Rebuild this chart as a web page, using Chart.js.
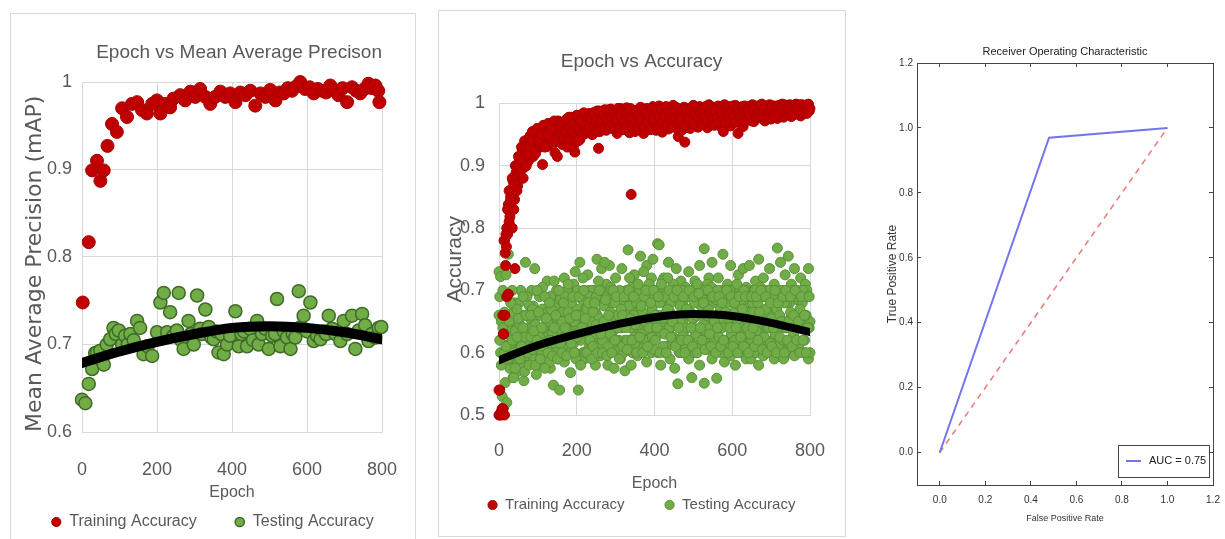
<!DOCTYPE html>
<html>
<head>
<meta charset="utf-8">
<script src="https://cdn.jsdelivr.net/npm/chart.js@4.4.0/dist/chart.umd.min.js"></script>
<style>
  html, body { margin: 0; padding: 0; background: #fff; }
  body { width: 1225px; height: 539px; position: relative; overflow: hidden; }
  .frame { position: absolute; border: 1px solid #d9d9d9; box-sizing: border-box; }
  canvas { position: absolute; }
</style>
</head>
<body>
<div class="frame" style="left:10px;top:13px;width:406px;height:540px"></div>
<div class="frame" style="left:438px;top:10px;width:408px;height:527px"></div>
<canvas id="mapChart" width="405" height="527" style="left:10px;top:12px"></canvas>
<canvas id="accChart" width="407" height="526" style="left:438px;top:10px"></canvas>
<canvas id="rocChart" width="370" height="519" style="left:855px;top:20px"></canvas>
<script>
// ---------- chart 1 : Epoch vs Mean Average Precison ----------
var mapTrainEpochs = [2,18,27,40,49,58,68,80,93,107,120,133,147,160,173,187,200,209,222,235,
  244,262,275,289,302,315,329,342,355,369,382,395,409,422,436,449,462,476,489,502,
  516,527,538,549,560,571,582,595,607,618,629,640,651,662,673,684,695,707,720,731,
  742,753,764,773,782,790,793];
var mapTrainValues = [0.748,0.817,0.899,0.910,0.887,0.899,0.927,0.952,0.943,0.970,0.960,0.975,0.977,0.968,0.964,0.975,0.979,0.964,0.975,0.971,
  0.981,0.985,0.979,0.989,0.983,0.992,0.983,0.975,0.983,0.989,0.983,0.987,0.977,0.988,0.985,0.990,0.973,0.987,0.983,0.991,
  0.979,0.988,0.987,0.993,0.990,0.995,1.000,0.992,0.994,0.987,0.992,0.990,0.988,0.996,0.991,0.985,0.993,0.977,0.994,0.990,
  0.987,0.992,0.998,0.993,0.996,0.990,0.977];
var mapTestEpochs = [0,9,18,27,35,40,49,58,66,75,84,90,98,107,115,122,129,138,147,155,
  164,175,187,200,209,218,227,235,244,253,258,264,271,284,290,298,307,315,320,329,
  338,345,351,358,364,372,378,387,395,409,418,425,432,440,448,456,467,471,480,489,
  498,507,515,520,529,538,547,556,562,569,578,584,591,600,609,618,627,636,645,651,
  658,667,676,689,698,707,720,729,738,747,755,764,773,782,791,798];
var mapTestValues = [0.637,0.633,0.655,0.672,0.690,0.691,0.693,0.677,0.700,0.706,0.719,0.712,0.716,0.700,0.710,0.700,0.712,0.705,0.727,0.719,
  0.689,0.698,0.687,0.714,0.748,0.759,0.714,0.737,0.710,0.716,0.759,0.705,0.695,0.727,0.712,0.700,0.756,0.718,0.712,0.740,
  0.720,0.708,0.706,0.715,0.691,0.712,0.689,0.700,0.710,0.738,0.698,0.712,0.715,0.698,0.718,0.705,0.727,0.700,0.712,0.718,
  0.695,0.710,0.712,0.752,0.698,0.715,0.708,0.695,0.712,0.708,0.761,0.720,0.733,0.715,0.748,0.704,0.710,0.706,0.715,0.712,
  0.733,0.718,0.712,0.704,0.727,0.712,0.733,0.695,0.716,0.735,0.722,0.704,0.712,0.708,0.719,0.720];
var mapTrendEpochs = [0,100,200,300,400,500,600,700,800];
var mapTrendValues = [0.679,0.692,0.703,0.712,0.719,0.721,0.719,0.714,0.706];
var mapYTicks = [0.6,0.7,0.8,0.9,1];

// ---------- chart 2 : Epoch vs Accuracy ----------
// readings taken every 4 epochs (0,4,...,800) and in between (2,6,...,798)
var accEpochs = [];
for (var e = 0; e <= 800; e += 4) accEpochs.push(e);
var accEpochsMid = [];
for (var m = 2; m < 800; m += 4) accEpochsMid.push(m);

var accTrainValues = [
  0.500,0.502,0.510,0.630,0.760,0.800,0.838,0.818,0.858,0.876,0.846,0.889,0.868,0.905,0.882,0.925,0.897,0.918,0.936,0.908,
  0.948,0.926,0.915,0.951,0.938,0.929,0.957,0.941,0.902,0.962,0.947,0.931,0.958,0.943,0.968,0.951,0.921,0.960,0.972,0.944,
  0.963,0.934,0.971,0.952,0.965,0.978,0.948,0.969,0.932,0.961,0.981,0.958,0.942,0.973,0.983,0.951,0.970,0.962,0.984,0.966,
  0.950,0.979,0.958,0.988,0.968,0.955,0.982,0.966,0.990,0.957,0.976,0.969,0.991,0.960,0.980,0.971,0.952,0.983,0.992,0.967,
  0.958,0.984,0.993,0.972,0.953,0.979,0.961,0.989,0.970,0.985,0.958,0.994,0.974,0.952,0.981,0.992,0.963,0.986,0.971,0.995,
  0.968,0.957,0.984,0.996,0.973,0.954,0.987,0.966,0.993,0.959,0.980,0.972,0.997,0.983,0.961,0.991,0.969,0.985,0.958,0.994,
  0.978,0.965,0.992,0.960,0.983,0.997,0.970,0.986,0.962,0.995,0.979,0.967,0.993,0.984,0.961,0.998,0.972,0.988,0.994,0.969,
  0.985,0.996,0.973,0.962,0.989,0.998,0.976,0.987,0.995,0.964,0.984,0.975,0.997,0.986,0.970,0.993,0.981,0.963,0.996,0.980,
  0.974,0.995,0.983,0.998,0.971,0.988,0.996,0.977,0.985,0.999,0.982,0.972,0.994,0.987,0.998,0.975,0.989,0.996,0.983,0.976,
  0.997,0.985,0.999,0.978,0.990,0.996,0.984,0.998,0.979,0.993,0.987,0.999,0.983,0.995,0.980,0.998,0.988,0.996,0.984,0.999,
  0.992];
var accTrainValuesMid = [
  0.540,0.505,0.660,0.780,0.790,0.830,0.860,0.845,0.880,0.870,0.900,0.880,0.915,0.895,0.930,0.910,0.940,0.920,0.935,0.945,
  0.935,0.955,0.940,0.925,0.960,0.945,0.930,0.955,0.965,0.940,0.950,0.968,0.935,0.960,0.948,0.972,0.938,0.955,0.965,0.950,
  0.970,0.945,0.958,0.975,0.940,0.962,0.978,0.955,0.968,0.945,0.980,0.960,0.972,0.950,0.985,0.965,0.958,0.978,0.962,0.975,
  0.985,0.962,0.972,0.955,0.988,0.970,0.960,0.982,0.958,0.975,0.990,0.965,0.978,0.986,0.962,0.975,0.992,0.960,0.978,0.988,
  0.970,0.962,0.985,0.978,0.992,0.965,0.975,0.955,0.988,0.980,0.968,0.975,0.990,0.962,0.985,0.970,0.980,0.958,0.992,0.975,
  0.985,0.990,0.962,0.978,0.992,0.970,0.980,0.995,0.965,0.985,0.975,0.962,0.988,0.978,0.993,0.968,0.982,0.975,0.990,0.965,
  0.990,0.980,0.972,0.988,0.995,0.968,0.982,0.993,0.975,0.985,0.966,0.990,0.978,0.996,0.972,0.985,0.990,0.976,0.965,0.988,
  0.978,0.970,0.992,0.985,0.975,0.968,0.993,0.982,0.972,0.990,0.996,0.980,0.970,0.992,0.985,0.976,0.995,0.988,0.972,0.990,
  0.988,0.980,0.972,0.990,0.995,0.978,0.985,0.992,0.997,0.980,0.990,0.996,0.978,0.985,0.992,0.996,0.980,0.988,0.994,0.990,
  0.985,0.994,0.990,0.998,0.986,0.992,0.996,0.988,0.995,0.982,0.997,0.992,0.988,0.998,0.990,0.985,0.996,0.992,0.998,0.988];
// extra training points: the early climb and the stray low ones
var accTrainExtra = [[0,0.54],[2,0.50],[6,0.50],[10,0.51],[14,0.50],[11,0.63],[15,0.66],[20,0.69],[24,0.694],[41,0.735],
  [17,0.74],[13,0.78],[19,0.77],[22,0.79],[26,0.81],[30,0.85],[34,0.80],[38,0.83],[42,0.87],[46,0.86],
  [50,0.90],[54,0.89],[58,0.91],[62,0.88],[66,0.93],[70,0.90],[74,0.92],[78,0.93],[86,0.94],[94,0.92],
  [102,0.94],[110,0.95],[118,0.93],[126,0.95],[134,0.96],[142,0.94],[150,0.915],[176,0.93],[195,0.922],[204,0.94],
  [256,0.928],[340,0.854],[461,0.947],[478,0.938],[577,0.955],[615,0.952]];

var accTestValuesA = [
  0.730,0.722,0.660,0.645,0.600,0.612,0.758,0.640,0.575,0.665,0.680,0.590,0.650,0.620,0.700,0.585,0.660,0.745,0.610,0.640,
  0.655,0.700,0.615,0.735,0.640,0.580,0.690,0.625,0.670,0.600,0.655,0.715,0.630,0.575,0.690,0.645,0.610,0.700,0.660,0.620,
  0.680,0.625,0.720,0.655,0.600,0.705,0.640,0.690,0.615,0.730,0.670,0.625,0.745,0.660,0.600,0.700,0.650,0.725,0.610,0.680,
  0.640,0.700,0.665,0.750,0.620,0.685,0.735,0.650,0.600,0.710,0.675,0.740,0.630,0.690,0.660,0.720,0.605,0.680,0.650,0.735,
  0.680,0.620,0.700,0.765,0.645,0.690,0.600,0.725,0.660,0.710,0.635,0.755,0.680,0.615,0.700,0.740,0.650,0.685,0.720,0.630,
  0.690,0.650,0.775,0.773,0.700,0.640,0.720,0.680,0.610,0.745,0.665,0.700,0.625,0.690,0.735,0.655,0.600,0.715,0.680,0.640,
  0.705,0.660,0.730,0.620,0.690,0.655,0.715,0.600,0.680,0.740,0.640,0.700,0.767,0.660,0.625,0.720,0.685,0.745,0.640,0.700,
  0.660,0.720,0.640,0.700,0.758,0.680,0.620,0.710,0.650,0.740,0.690,0.615,0.700,0.665,0.725,0.640,0.690,0.735,0.650,0.705,
  0.680,0.740,0.655,0.700,0.625,0.715,0.670,0.750,0.640,0.690,0.720,0.660,0.700,0.640,0.735,0.680,0.620,0.710,0.665,0.768,
  0.690,0.745,0.650,0.700,0.725,0.640,0.755,0.680,0.710,0.660,0.735,0.620,0.700,0.665,0.720,0.650,0.690,0.710,0.640,0.735,
  0.650];
var accTestValuesB = [
  0.660,0.600,0.530,0.512,0.552,0.520,0.585,0.575,0.625,0.560,0.610,0.650,0.570,0.680,0.600,0.635,0.555,0.620,0.690,0.600,
  0.590,0.640,0.675,0.605,0.565,0.660,0.625,0.595,0.705,0.640,0.580,0.665,0.620,0.690,0.600,0.548,0.675,0.635,0.590,0.540,
  0.600,0.665,0.585,0.640,0.700,0.620,0.568,0.660,0.710,0.600,0.645,0.540,0.690,0.625,0.720,0.590,0.675,0.640,0.700,0.615,
  0.700,0.610,0.580,0.660,0.715,0.595,0.640,0.690,0.745,0.625,0.580,0.660,0.705,0.615,0.575,0.650,0.695,0.620,0.590,0.665,
  0.600,0.571,0.650,0.690,0.720,0.580,0.665,0.625,0.700,0.595,0.675,0.640,0.610,0.730,0.660,0.585,0.705,0.625,0.600,0.750,
  0.625,0.700,0.600,0.660,0.580,0.715,0.650,0.600,0.690,0.635,0.590,0.660,0.710,0.575,0.620,0.550,0.680,0.600,0.650,0.700,
  0.610,0.690,0.590,0.665,0.560,0.640,0.600,0.700,0.635,0.580,0.675,0.620,0.551,0.690,0.710,0.605,0.650,0.590,0.680,0.620,
  0.559,0.640,0.690,0.600,0.650,0.585,0.700,0.620,0.660,0.595,0.635,0.680,0.580,0.710,0.610,0.670,0.600,0.645,0.700,0.590,
  0.610,0.650,0.590,0.680,0.700,0.600,0.640,0.580,0.705,0.625,0.595,0.690,0.615,0.660,0.600,0.700,0.650,0.590,0.700,0.635,
  0.600,0.655,0.700,0.590,0.640,0.680,0.610,0.600,0.660,0.700,0.595,0.650,0.685,0.605,0.640,0.680,0.600,0.660,0.700,0.590,
  0.600];
var accTestValuesC = [
  0.690,0.650,0.700,0.600,0.725,0.640,0.590,0.615,0.700,0.560,0.635,0.670,0.605,0.645,0.580,0.690,0.625,0.595,0.660,0.675,
  0.625,0.670,0.590,0.645,0.700,0.615,0.660,0.600,0.640,0.690,0.610,0.650,0.585,0.670,0.630,0.715,0.600,0.655,0.620,0.685,
  0.650,0.610,0.690,0.635,0.665,0.600,0.680,0.625,0.650,0.590,0.700,0.660,0.620,0.685,0.640,0.600,0.670,0.630,0.690,0.650,
  0.665,0.630,0.690,0.610,0.655,0.700,0.620,0.675,0.640,0.690,0.610,0.665,0.700,0.635,0.680,0.620,0.660,0.700,0.640,0.610,
  0.650,0.690,0.620,0.675,0.640,0.705,0.660,0.615,0.680,0.645,0.700,0.630,0.665,0.690,0.620,0.655,0.710,0.640,0.670,0.605,
  0.660,0.700,0.630,0.680,0.650,0.610,0.690,0.665,0.720,0.640,0.680,0.620,0.700,0.655,0.615,0.685,0.650,0.700,0.630,0.665,
  0.640,0.690,0.620,0.700,0.655,0.680,0.630,0.710,0.660,0.615,0.690,0.645,0.700,0.625,0.670,0.640,0.705,0.655,0.620,0.685,
  0.700,0.625,0.670,0.640,0.690,0.610,0.680,0.655,0.700,0.630,0.665,0.620,0.690,0.650,0.605,0.680,0.640,0.700,0.625,0.665,
  0.650,0.690,0.620,0.665,0.700,0.635,0.680,0.610,0.660,0.690,0.625,0.670,0.640,0.700,0.615,0.655,0.690,0.630,0.670,0.610,
  0.660,0.700,0.620,0.680,0.640,0.690,0.615,0.665,0.700,0.630,0.655,0.690,0.610,0.670,0.640,0.700,0.620,0.660,0.690,0.640];
var accTestValuesD = [
  0.620,0.580,0.640,0.665,0.610,0.590,0.650,0.680,0.620,0.600,0.575,0.625,0.655,0.590,0.610,0.640,0.570,0.660,0.600,0.580,
  0.660,0.605,0.635,0.580,0.620,0.665,0.590,0.640,0.610,0.575,0.655,0.600,0.680,0.620,0.595,0.640,0.660,0.590,0.700,0.615,
  0.600,0.680,0.640,0.595,0.710,0.655,0.615,0.690,0.600,0.660,0.625,0.690,0.580,0.640,0.700,0.655,0.600,0.680,0.620,0.590,
  0.610,0.680,0.645,0.600,0.700,0.630,0.600,0.650,0.685,0.595,0.660,0.630,0.600,0.700,0.620,0.690,0.640,0.590,0.670,0.660,
  0.690,0.640,0.605,0.700,0.655,0.620,0.690,0.645,0.600,0.710,0.625,0.675,0.600,0.650,0.700,0.610,0.640,0.680,0.625,0.700,
  0.620,0.640,0.690,0.600,0.710,0.655,0.630,0.600,0.670,0.700,0.625,0.650,0.690,0.610,0.700,0.640,0.675,0.620,0.690,0.600,
  0.670,0.620,0.700,0.640,0.610,0.690,0.660,0.600,0.695,0.640,0.620,0.680,0.605,0.660,0.700,0.630,0.610,0.690,0.650,0.600,
  0.640,0.690,0.610,0.680,0.620,0.665,0.700,0.600,0.640,0.690,0.610,0.680,0.640,0.600,0.690,0.625,0.670,0.610,0.690,0.640,
  0.600,0.630,0.690,0.640,0.610,0.690,0.620,0.665,0.700,0.605,0.650,0.690,0.600,0.640,0.680,0.610,0.640,0.700,0.600,0.680,
  0.625,0.650,0.690,0.600,0.700,0.620,0.650,0.690,0.610,0.660,0.700,0.620,0.650,0.600,0.690,0.620,0.660,0.600,0.640,0.690];
var accTrendEpochs = [0,100,200,300,400,500,600,700,800];
var accTrendValues = [0.588,0.612,0.630,0.645,0.657,0.662,0.659,0.648,0.633];
var accYTicks = [0.5,0.6,0.7,0.8,0.9,1];
var epochTicks = [0,200,400,600,800];

// ---------- chart 3 : ROC ----------
var rocFpr = [0, 0.48, 1];
var rocTpr = [0, 0.97, 1];
var chanceFpr = [0, 1];
var chanceTpr = [0, 1];
var rocTicks = [0, 0.2, 0.4, 0.6, 0.8, 1.0, 1.2];

var SANS = "'Liberation Sans', Arial, sans-serif";
var GREY = '#595959';
var GRID = '#d9d9d9';
var RED = '#c00000';
var GREEN = '#70ad47';
Chart.defaults.font.family = SANS;

function pts(xs, ys) {
  return xs.map(function (x, i) { return {x: x, y: ys[i]}; });
}
function fixedTicks(list) {
  return function (scale) { scale.ticks = list.map(function (v) { return {value: v}; }); };
}
// fix the size of an axis box and drop the extra room Chart.js keeps for edge labels
function boxSize(prop, size) {
  return function (s) {
    s[prop] = size;
    s.paddingLeft = s.paddingRight = s.paddingTop = s.paddingBottom = 0;
  };
}

// the two Excel style panels share one layout
function epochChart(id, o) {
  return new Chart(document.getElementById(id), {
    type: 'scatter',
    data: {
      datasets: [{
        label: 'trend',
        data: o.trend,
        showLine: true,
        borderColor: '#000',
        borderWidth: o.trendWidth,
        borderCapStyle: 'round',
        cubicInterpolationMode: 'monotone',
        pointRadius: 0
      }, {
        label: 'Training Accuracy',
        data: o.train,
        backgroundColor: RED,
        borderColor: '#a80000',
        pointRadius: o.radius,
        pointBorderWidth: 1,
        clip: false
      }, {
        label: 'Testing Accuracy',
        data: o.test,
        backgroundColor: GREEN,
        borderColor: o.testBorder,
        pointRadius: o.radius,
        pointBorderWidth: o.testBorderWidth,
        clip: false
      }]
    },
    options: {
      responsive: false,
      animation: false,
      events: [],
      layout: { padding: { bottom: o.padBottom } },
      plugins: {
        tooltip: { enabled: false },
        title: {
          display: true,
          text: o.title,
          color: GREY,
          align: o.titleAlign,
          fullSize: o.titleFull,
          font: { size: 19, weight: 'normal' },
          padding: o.titlePad
        },
        legend: {
          position: 'bottom',
          maxHeight: o.legendHeight,
          labels: {
            filter: function (item) { return item.datasetIndex > 0; },
            usePointStyle: true,
            pointStyle: 'circle',
            boxWidth: 10,
            boxHeight: 6.5,
            padding: o.legendPad,
            color: GREY,
            font: { size: o.legendSize }
          }
        }
      },
      scales: {
        x: {
          type: 'linear', min: 0, max: 800,
          afterBuildTicks: fixedTicks(epochTicks),
          grid: { color: GRID, drawTicks: false },
          border: { color: GRID },
          ticks: { color: GREY, font: { size: 18 }, padding: o.xTickPad, maxRotation: 0 },
          title: { display: true, text: 'Epoch', color: GREY, font: { size: 16 }, padding: { top: 0, bottom: o.xTitlePad } },
          afterFit: boxSize('height', o.xHeight)
        },
        y: {
          type: 'linear', min: o.yMin, max: 1,
          afterBuildTicks: fixedTicks(o.yTicks),
          grid: { color: GRID, drawTicks: false },
          border: { color: GRID },
          ticks: { color: GREY, font: { size: 18 }, padding: o.yTickPad,
            callback: function (v) { return String(v); } },
          title: { display: true, text: o.yTitle, color: GREY, font: o.yTitleFont, align: o.yTitleAlign,
            padding: { top: o.yTitlePad, bottom: 0 } },
          afterFit: boxSize('width', o.yWidth)
        },
        yR: {
          type: 'linear', position: 'right',
          ticks: { display: false }, grid: { display: false }, border: { display: false },
          afterFit: boxSize('width', o.rightGap)
        }
      }
    }
  });
}

epochChart('mapChart', {
  title: 'Epoch vs Mean Average Precison', titleAlign: 'end', titleFull: false,
  titlePad: { top: 29.8, bottom: 17.4 },
  train: pts(mapTrainEpochs, mapTrainValues),
  test: pts(mapTestEpochs, mapTestValues),
  trend: pts(mapTrendEpochs, mapTrendValues), trendWidth: 10,
  radius: 6.5, testBorder: '#3f6b26', testBorderWidth: 1.5,
  yMin: 0.6, yTicks: mapYTicks,
  yTitle: 'Mean Average Precision (mAP)', yTitleFont: { family: "'DejaVu Sans'", size: 22 }, yTitlePad: 11.8,
  yTitleAlign: 'start',
  yWidth: 72, yTickPad: 10, rightGap: 33,
  xHeight: 44, xTickPad: 26.8, xTitlePad: -26.4,
  legendHeight: 63, legendSize: 16, legendPad: 38, padBottom: 0
});

var accTest = pts(accEpochs, accTestValuesA).concat(pts(accEpochs, accTestValuesB),
  pts(accEpochsMid, accTestValuesC), pts(accEpochsMid, accTestValuesD));
var accTrain = pts(accEpochs, accTrainValues).concat(pts(accEpochsMid, accTrainValuesMid),
  accTrainExtra.map(function (p) { return {x: p[0], y: p[1]}; }));
epochChart('accChart', {
  title: 'Epoch vs Accuracy', titleAlign: 'center', titleFull: true,
  titlePad: { top: 40.4, bottom: 30.3 },
  train: accTrain,
  test: accTest,
  trend: pts(accTrendEpochs, accTrendValues), trendWidth: 8,
  radius: 5, testBorder: '#5b8f3a', testBorderWidth: 1,
  yMin: 0.5, yTicks: accYTicks,
  yTitle: 'Accuracy', yTitleFont: { size: 21 }, yTitlePad: 4.4, yTitleAlign: 'center',
  yWidth: 61, yTickPad: 14, rightGap: 35,
  xHeight: 42.5, xTickPad: 25.1, xTitlePad: -36.1,
  legendHeight: 80, legendSize: 15, legendPad: 40, padBottom: 13.5
});

// matplotlib style legend box in the lower right corner of the plot
var rocLegend = {
  id: 'rocLegend',
  afterDraw: function (chart) {
    var ds = chart.data.datasets[0];
    var a = chart.chartArea;
    var ctx = chart.ctx;
    var w = 91, h = 32;
    var x = a.right - 4 - w, y = a.bottom - 8 - h;
    ctx.save();
    ctx.fillStyle = '#fff';
    ctx.fillRect(x, y, w, h);
    ctx.strokeStyle = '#444';
    ctx.lineWidth = 1;
    ctx.strokeRect(x + 0.5, y + 0.5, w, h);
    ctx.strokeStyle = ds.borderColor;
    ctx.lineWidth = ds.borderWidth;
    ctx.beginPath();
    ctx.moveTo(x + 8, y + h / 2);
    ctx.lineTo(x + 23, y + h / 2);
    ctx.stroke();
    ctx.fillStyle = '#222';
    ctx.font = '11px ' + SANS;
    ctx.textBaseline = 'middle';
    ctx.fillText(ds.label, x + 31, y + h / 2);
    ctx.restore();
  }
};

function rocScale(pos, extra) {
  var s = {
    type: 'linear', position: pos, min: -0.1, max: 1.2,
    afterBuildTicks: fixedTicks(rocTicks),
    grid: { drawOnChartArea: false, tickLength: -4, color: '#444' },
    border: { color: '#444' },
    ticks: { display: false }
  };
  return Object.assign(s, extra);
}

new Chart(document.getElementById('rocChart'), {
  type: 'scatter',
  data: {
    datasets: [{
      label: 'AUC = 0.75',
      data: pts(rocFpr, rocTpr),
      showLine: true,
      borderColor: '#7474ee',
      borderWidth: 2,
      pointRadius: 0
    }, {
      label: 'chance',
      data: pts(chanceFpr, chanceTpr),
      showLine: true,
      borderColor: '#ee7777',
      borderWidth: 1.5,
      borderDash: [6, 5],
      pointRadius: 0
    }]
  },
  options: {
    responsive: false,
    animation: false,
    events: [],
    layout: { padding: { right: 12, bottom: 15.2 } },
    plugins: {
      legend: { display: false },
      tooltip: { enabled: false },
      title: {
        display: true,
        fullSize: false,
        text: 'Receiver Operating Characteristic',
        color: '#222',
        font: { size: 11, weight: 'normal' },
        padding: { top: 24.9, bottom: 4.9 }
      }
    },
    scales: {
      x: rocScale('bottom', {
        ticks: { color: '#333', font: { size: 10 }, padding: 13.5, maxRotation: 0, autoSkip: false,
          callback: function (v) { return v.toFixed(1); } },
        title: { display: true, text: 'False Positive Rate', color: '#333', font: { size: 9 }, padding: 0 },
        afterFit: boxSize('height', 38.8)
      }),
      x2: rocScale('top', { afterFit: boxSize('height', 0) }),
      y: rocScale('left', {
        ticks: { color: '#333', font: { size: 10 }, padding: 8, autoSkip: false,
          callback: function (v) { return v.toFixed(1); } },
        title: { display: true, text: 'True Positive Rate', color: '#333', font: { size: 12 }, padding: { top: 30.8, bottom: 0 } },
        afterFit: boxSize('width', 62)
      }),
      y2: rocScale('right', { afterFit: boxSize('width', 0) })
    }
  },
  plugins: [rocLegend]
});
</script>
</body>
</html>
